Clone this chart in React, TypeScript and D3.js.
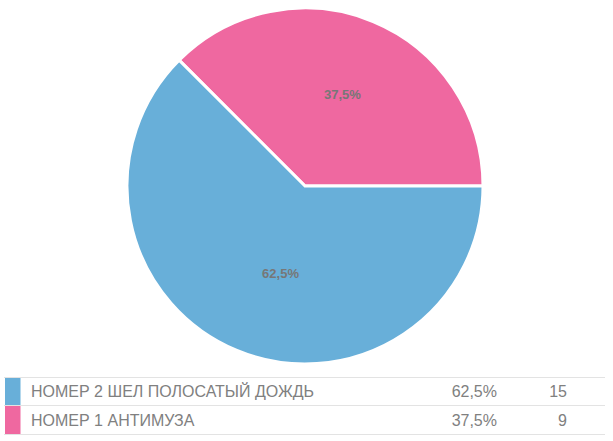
import React from "react";
import * as d3 from "d3";

const categories = ["НОМЕР 2 ШЕЛ ПОЛОСАТЫЙ ДОЖДЬ", "НОМЕР 1 АНТИМУЗА"];
const counts = [15, 9];
const percentLabels = ["62,5%", "37,5%"];
const colors = ["#68afd9", "#ef68a0"];

export default function App() {
  const W = 613, H = 441;
  const cx = 305, cy = 186, R = 178;
  const total = d3.sum(counts);
  const pinkAngle = (counts[1] / total) * 2 * Math.PI;
  const start = Math.PI / 2 - pinkAngle;
  const pie = d3.pie<number>().sort(null).startAngle(start).endAngle(start + 2 * Math.PI).value((d) => d);
  const arcsData = pie([counts[1], counts[0]]);
  const order = [1, 0];
  const labelOffsets = [[0, -1], [13, -3]];
  const arc = d3.arc<d3.PieArcDatum<number>>().innerRadius(0).outerRadius(R);
  const labelArc = d3.arc<d3.PieArcDatum<number>>().innerRadius(R * 0.55).outerRadius(R * 0.55);

  const lines = [377.5, 405.5, 434.5];
  const baselines = [397, 425.5];
  const font = "'Liberation Sans', Arial, sans-serif";
  return (
    <svg width={W} height={H} style={{ position: "absolute", left: 0, top: 0 }}>
      <rect width={W} height={H} fill="#fff" />
      <g transform={`translate(${cx},${cy})`}>
        {arcsData.map((a, i) => (
          <path key={i} d={arc(a) || ""} fill={colors[order[i]]} stroke="#fff" strokeWidth={3} strokeLinejoin="miter" />
        ))}
        {arcsData.map((a, i) => {
          const [x, y] = labelArc.centroid(a);
          return (
            <text key={i} x={x + labelOffsets[i][0]} y={y + labelOffsets[i][1]} textAnchor="middle" dominantBaseline="central" fontFamily={font} fontWeight="bold" fontSize={13} fill="#777">
              {percentLabels[order[i]]}
            </text>
          );
        })}
      </g>
      <g>
        {lines.map((y, i) => (
          <line key={i} x1={4} x2={605} y1={y} y2={y} stroke="#e3e3e3" strokeWidth={1} />
        ))}
        {categories.map((c, i) => (
          <g key={i}>
            <rect x={5} y={lines[i] + 0.5} width={15.5} height={lines[i + 1] - lines[i] - 1} fill={colors[i]} />
            <text x={31} y={baselines[i]} fontFamily={font} fontSize={16} fill="#808080">{c}</text>
            <text x={497} y={baselines[i]} textAnchor="end" fontFamily={font} fontSize={16} fill="#808080">{percentLabels[i]}</text>
            <text x={567} y={baselines[i]} textAnchor="end" fontFamily={font} fontSize={16} fill="#808080">{counts[i]}</text>
          </g>
        ))}
      </g>
    </svg>
  );
}
